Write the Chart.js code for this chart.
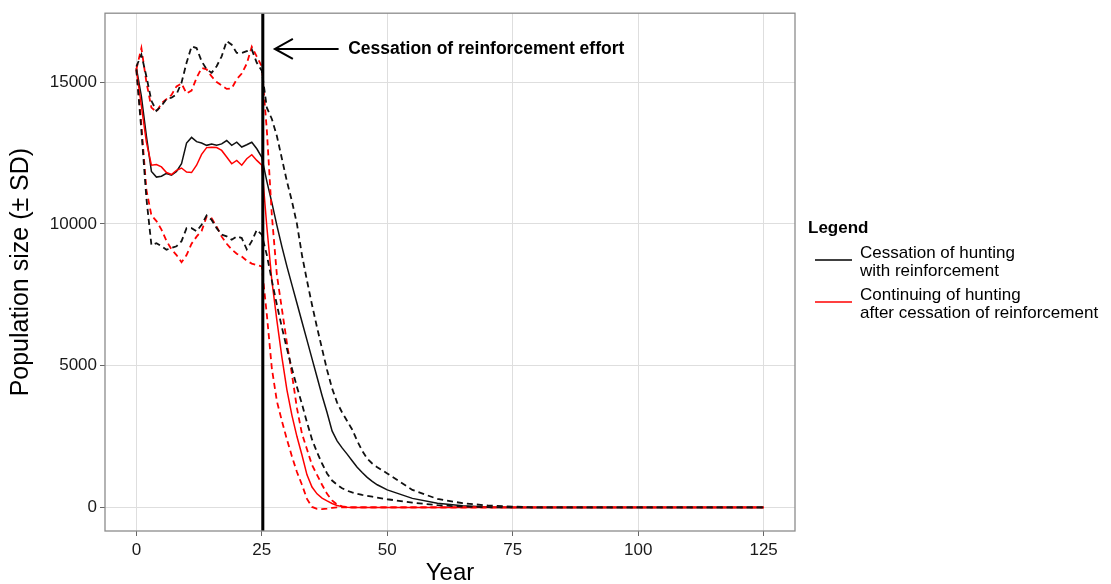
<!DOCTYPE html>
<html>
<head>
<meta charset="utf-8">
<script src="https://cdn.jsdelivr.net/npm/chart.js@4"></script>
<style>
  body { margin: 0; background: #fff; }
  #wrap { width: 1111px; height: 584px; }
</style>
</head>
<body>
<div id="wrap"><canvas id="populacao" width="1111" height="584"></canvas></div>
<script>
// years sampled (yearly up to 48, then every few years)
const years = [0,1,2,3,4,5,6,7,8,9,10,11,12,13,14,15,16,17,18,19,20,21,22,23,24,25,
  26,27,28,29,30,31,32,33,34,35,36,37,38,39,40,41,42,43,44,45,46,47,48,
  50,55,60,65,70,75,80,90,100,110,125];

// cessation of hunting with reinforcement (black)
const blackMean = [15500,14500,13100,11850,11650,11680,11780,11720,11850,12120,12850,13050,12900,12850,12770,12820,12770,12820,12940,12770,12880,12710,12790,12880,12650,12350,
  11500,10750,9950,9200,8500,7850,7200,6550,5900,5250,4600,3950,3350,2700,2350,2100,1880,1650,1420,1230,1060,920,800,
  620,320,150,60,15,0,0,0,0,0,0];
const blackUpper = [15550,15970,15200,14340,13990,14160,14400,14450,14570,14980,15680,16260,16200,15740,15450,15330,15560,15910,16450,16320,16030,16030,16090,16150,15680,15400,
  14100,13700,13100,12300,11500,10800,10000,8900,8000,7150,6350,5600,4850,4200,3700,3350,3050,2750,2350,2000,1720,1550,1420,
  1200,620,300,150,70,30,0,0,0,0,0];
const blackLower = [15450,13300,10900,9250,9320,9210,9090,9150,9210,9390,9850,9850,9740,9970,10300,10140,9850,9620,9560,9440,9560,9500,9100,9390,9790,9620,
  8900,8000,7150,6350,5600,4900,4250,3650,3000,2400,1950,1550,1200,950,800,680,590,530,480,440,410,380,350,
  290,170,80,30,10,0,0,0,0,0,0];

// continuing of hunting after cessation of reinforcement (red)
const redMean = [15450,14160,12880,12070,12090,12010,11810,11740,11890,11970,11830,11810,12070,12450,12690,12700,12690,12590,12360,12120,12240,12070,12300,12440,12240,12070,
  9900,8000,6600,5300,4150,3250,2500,1850,1150,720,480,330,230,140,70,30,10,0,0,0,0,0,0,
  0,0,0,0,0,0,0,0,0,0,0];
const redUpper = [15450,16200,15000,14100,13950,14250,14400,14550,14850,14950,14600,14700,15150,15500,15450,15200,15000,14880,14760,14780,15100,15300,15650,16250,15900,15550,
  13300,10300,8200,7000,5800,4700,3500,2600,2050,1500,1150,800,480,250,100,40,10,0,0,0,0,0,0,
  0,0,0,0,0,0,0,0,0,0,0];
const redLower = [15450,13500,11200,10300,10100,9800,9400,9100,8900,8650,8900,9300,9550,9750,10250,10200,9900,9550,9300,9100,8950,8850,8700,8600,8550,8500,
  6800,4900,3750,3050,2400,1800,1250,800,300,20,-50,-60,-40,-15,0,0,0,0,0,0,0,0,0,
  0,0,0,0,0,0,0,0,0,0,0];

const xTicks = [0, 25, 50, 75, 100, 125];
const yTicks = [0, 5000, 10000, 15000];
const cessationYear = 25;
const noteText = 'Cessation of reinforcement effort';
const legendTitle = 'Legend';
const legendItems = [
  { color: '#000000', lines: ['Cessation of hunting', 'with reinforcement'] },
  { color: '#ff0000', lines: ['Continuing of hunting', 'after cessation of reinforcement'] }
];

const FONT = "'Liberation Sans', Arial, sans-serif";

function toPoints(values) {
  return years.map((ano, i) => ({ x: ano, y: values[i] }));
}

function serie(values, color, dashed) {
  return {
    data: toPoints(values),
    borderColor: color,
    borderWidth: dashed ? 1.8 : 1.5,
    borderDash: dashed ? [6, 4] : [],
    pointRadius: 0,
    fill: false,
    tension: 0
  };
}

const extras = {
  id: 'extras',
  afterDatasetsDraw(chart) {
    const { ctx, chartArea: a, scales: { x, y } } = chart;
    ctx.save();

    // vertical line at cessation year
    const vx = x.getPixelForValue(cessationYear) + 1;
    ctx.strokeStyle = '#000';
    ctx.lineWidth = 3;
    ctx.beginPath();
    ctx.moveTo(vx, a.top);
    ctx.lineTo(vx, a.bottom);
    ctx.stroke();

    // panel border
    ctx.strokeStyle = '#8c8c8c';
    ctx.lineWidth = 1.3;
    ctx.strokeRect(a.left, a.top, a.right - a.left, a.bottom - a.top);

    // arrow + annotation
    const ay = y.getPixelForValue(16170);
    const tipX = x.getPixelForValue(27.6);
    const tailX = x.getPixelForValue(40.3);
    ctx.strokeStyle = '#000';
    ctx.lineWidth = 2;
    ctx.beginPath();
    ctx.moveTo(tailX, ay);
    ctx.lineTo(tipX, ay);
    ctx.moveTo(tipX + 18, ay - 10);
    ctx.lineTo(tipX, ay);
    ctx.lineTo(tipX + 18, ay + 10);
    ctx.stroke();

    ctx.fillStyle = '#000';
    ctx.font = 'bold 17.5px ' + FONT;
    ctx.textBaseline = 'middle';
    ctx.textAlign = 'left';
    ctx.fillText(noteText, x.getPixelForValue(42.2), ay);
    ctx.restore();
  },
  afterDraw(chart) {
    const { ctx } = chart;
    ctx.save();
    ctx.fillStyle = '#000';
    ctx.textBaseline = 'middle';
    ctx.textAlign = 'left';
    ctx.font = 'bold 17px ' + FONT;
    ctx.fillText(legendTitle, 808, 228);

    ctx.font = '17px ' + FONT;
    legendItems.forEach((item, i) => {
      const top = 253 + i * 42;
      ctx.strokeStyle = item.color;
      ctx.lineWidth = 1.5;
      ctx.beginPath();
      ctx.moveTo(815, top + 7);
      ctx.lineTo(852, top + 7);
      ctx.stroke();
      item.lines.forEach((txt, j) => {
        ctx.fillText(txt, 860, top + j * 18);
      });
    });
    ctx.restore();
  }
};

const ctx = document.getElementById('populacao');

new Chart(ctx, {
  type: 'line',
  data: {
    datasets: [
      serie(blackUpper, '#111111', true),
      serie(blackLower, '#111111', true),
      serie(redMean, '#ff0000', false),
      serie(redUpper, '#ff0000', true),
      serie(redLower, '#ff0000', true),
      serie(blackMean, '#111111', false)
    ]
  },
  options: {
    responsive: false,
    animation: false,
    layout: { padding: { top: 8, right: 316, left: 0, bottom: 0 } },
    plugins: {
      legend: { display: false },
      tooltip: { enabled: false }
    },
    scales: {
      x: {
        type: 'linear',
        min: -6.25,
        max: 131.25,
        afterBuildTicks: axis => { axis.ticks = xTicks.map(v => ({ value: v })); },
        afterFit: axis => { axis.height = 53; },
        border: { display: false },
        grid: { color: '#dedede', lineWidth: 1, tickLength: 5, tickColor: '#666' },
        ticks: { color: '#1a1a1a', padding: 4, font: { family: FONT, size: 17 } },
        title: {
          display: true,
          text: 'Year',
          color: '#000',
          padding: { top: 0, bottom: -1 },
          font: { family: FONT, size: 24, lineHeight: 1 }
        }
      },
      y: {
        min: -830,
        max: 17430,
        afterBuildTicks: axis => { axis.ticks = yTicks.map(v => ({ value: v })); },
        afterFit: axis => { axis.width = 105; },
        border: { display: false },
        grid: { color: '#dedede', lineWidth: 1, tickLength: 5, tickColor: '#666' },
        ticks: {
          color: '#1a1a1a',
          padding: 3,
          font: { family: FONT, size: 17 },
          callback: v => String(v)
        },
        title: {
          display: true,
          text: 'Population size (± SD)',
          color: '#000',
          padding: { top: 9, bottom: 0 },
          font: { family: FONT, size: 25, lineHeight: 1 }
        }
      }
    }
  },
  plugins: [extras]
});
</script>
</body>
</html>
